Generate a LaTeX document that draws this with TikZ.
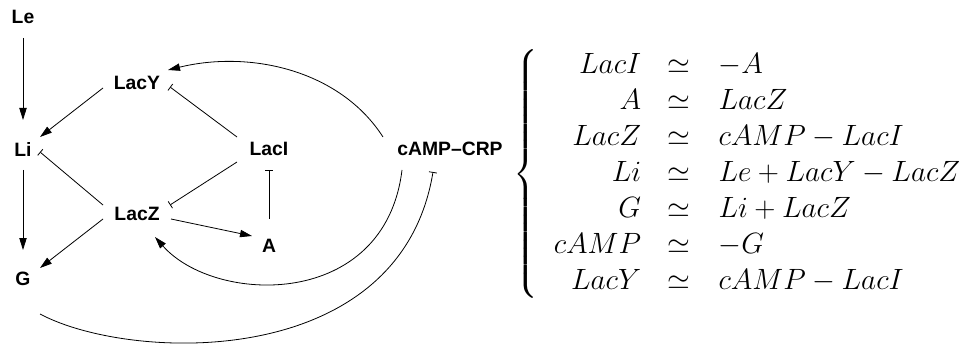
\RequirePackage{fix-cm}
\documentclass[tikz,border=0pt]{standalone}
\usepackage{fontspec}
\setsansfont{Liberation Sans}
\usepackage{amsmath}
\usetikzlibrary{arrows.meta}
\begin{document}
\begin{tikzpicture}[x=0.75pt,y=-0.75pt,
  lbl/.style={font=\fontsize{14.5}{16}\sffamily\bfseries, inner sep=0pt},
  act/.style={line width=0.6pt, -{Triangle[length=9pt,width=5.5pt]}},
  inh/.style={line width=0.6pt, -{Bar[width=6pt,line width=0.6pt]}}]
\useasboundingbox (0,0) rectangle (966,345);
\node[lbl] (Le)   at (23,17)   {Le};
\node[lbl] (LacY) at (137,83)  {LacY};
\node[lbl] (Li)   at (23,149)  {Li};
\node[lbl] (LacI) at (269,149) {LacI};
\node[lbl] (LacZ) at (137,214) {LacZ};
\node[lbl] (A)    at (269,246) {A};
\node[lbl] (G)    at (23,279)  {G};
\node[lbl] (CRP)  at (450,149) {cAMP–CRP};
% connectors
\draw[act] ([shift={(0,21)}]Le.center) -- ([shift={(0,-29)}]Li.center);
\draw[act] ([shift={(0,21)}]Li.center) -- ([shift={(0,-29)}]G.center);
\draw[act] ([shift={(-34,5)}]LacY.center) -- ([shift={(17,-12)}]Li.center);
\draw[act] ([shift={(-34,5)}]LacZ.center) -- ([shift={(17,-11)}]G.center);
\draw[inh] ([shift={(-32,-12)}]LacI.center) -- ([shift={(33,4)}]LacY.center);
\draw[inh] ([shift={(-32,13)}]LacI.center) -- ([shift={(33,-9)}]LacZ.center);
\draw[inh] ([shift={(-34,-9)}]LacZ.center) -- ([shift={(17,3)}]Li.center);
\draw[inh] ([shift={(0,-27)}]A.center) -- ([shift={(0,21)}]LacI.center);
\draw[act] ([shift={(34,5)}]LacZ.center) -- ([shift={(-17,-10)}]A.center);
\draw[act] ([shift={(-67,-12)}]CRP.center) .. controls (340,70) and (250,50) .. ([shift={(31,-13)}]LacY.center);
\draw[act] ([shift={(-48,21)}]CRP.center) .. controls (385,310) and (215,305) .. ([shift={(18,23)}]LacZ.center);
\draw[inh] ([shift={(17,35)}]G.center) .. controls (130,362) and (400,372) .. ([shift={(-17,23)}]CRP.center);
% equations
\node[anchor=west, inner sep=0pt, font=\fontsize{22}{27}\selectfont] (eqs) at (513,174)
{$\left\{\begin{array}{@{\hspace{12pt}}r@{\hspace{20pt}}c@{\hspace{21pt}}l@{}}
LacI & \simeq & -A\\
A & \simeq & LacZ\\
LacZ & \simeq & cAMP-LacI\\
Li & \simeq & Le+LacY-LacZ\\
G & \simeq & Li+LacZ\\
cAMP & \simeq & -G\\
LacY & \simeq & cAMP-LacI
\end{array}\right.$};
\end{tikzpicture}
\end{document}
